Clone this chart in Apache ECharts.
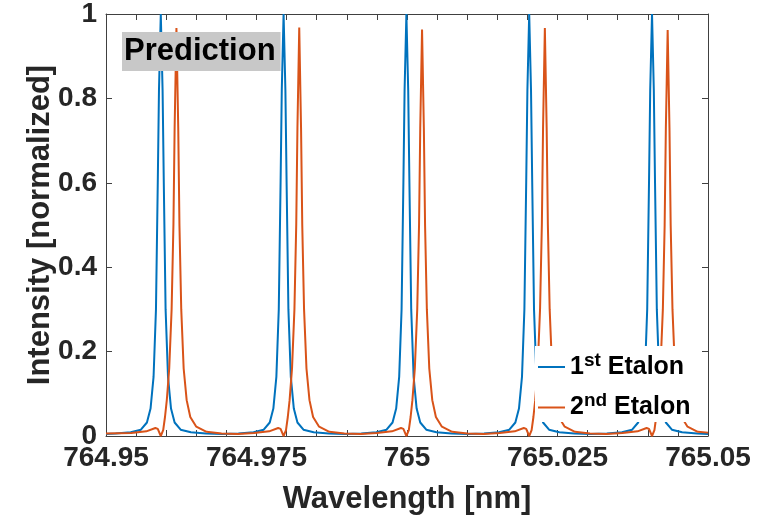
<!DOCTYPE html>
<html>
<head>
<meta charset="utf-8">
<title>Etalon prediction</title>
<script src="https://cdn.jsdelivr.net/npm/echarts@6/dist/echarts.min.js"></script>
<style>
	html, body { margin: 0; padding: 0; background: #fff; }
	#chart { width: 779px; height: 519px; }
</style>
</head>
<body>
<div id="chart"></div>
<script>
	// wavelength [nm], normalized intensity
	var etalon1 = [
		[764.9500, 0.005], [764.9516, 0.006], [764.9541, 0.009], [764.9558, 0.015], [764.9568, 0.032],
		[764.9574, 0.065], [764.9579, 0.14], [764.9583, 0.3], [764.9586, 0.6], [764.9588, 0.82],
		[764.9591, 1], [764.9594, 0.82], [764.9596, 0.6], [764.9599, 0.3], [764.9603, 0.14],
		[764.9608, 0.065], [764.9614, 0.032], [764.9624, 0.015], [764.9641, 0.009], [764.9666, 0.006],
		[764.9693, 0.005],
		[764.9720, 0.006], [764.9745, 0.009], [764.9762, 0.015], [764.9772, 0.032], [764.9778, 0.065],
		[764.9783, 0.14], [764.9787, 0.3], [764.9790, 0.6], [764.9792, 0.82], [764.9795, 1],
		[764.9798, 0.82], [764.9800, 0.6], [764.9803, 0.3], [764.9807, 0.14], [764.9812, 0.065],
		[764.9818, 0.032], [764.9828, 0.015], [764.9845, 0.009], [764.9870, 0.006], [764.9897, 0.005],
		[764.9924, 0.006], [764.9949, 0.009], [764.9966, 0.015], [764.9976, 0.032], [764.9982, 0.065],
		[764.9987, 0.14], [764.9991, 0.3], [764.9994, 0.6], [764.9996, 0.82], [764.9999, 1],
		[765.0002, 0.82], [765.0004, 0.6], [765.0007, 0.3], [765.0011, 0.14], [765.0016, 0.065],
		[765.0022, 0.032], [765.0032, 0.015], [765.0049, 0.009], [765.0074, 0.006], [765.0101, 0.005],
		[765.0128, 0.006], [765.0153, 0.009], [765.0170, 0.015], [765.0180, 0.032], [765.0186, 0.065],
		[765.0191, 0.14], [765.0195, 0.3], [765.0198, 0.6], [765.0200, 0.82], [765.0203, 1],
		[765.0206, 0.82], [765.0208, 0.6], [765.0211, 0.3], [765.0215, 0.14], [765.0220, 0.065],
		[765.0226, 0.032], [765.0236, 0.015], [765.0253, 0.009], [765.0278, 0.006], [765.0305, 0.005],
		[765.0332, 0.006], [765.0357, 0.009], [765.0374, 0.015], [765.0384, 0.032], [765.0390, 0.065],
		[765.0395, 0.14], [765.0399, 0.3], [765.0402, 0.6], [765.0404, 0.82], [765.0407, 1],
		[765.0410, 0.82], [765.0412, 0.6], [765.0415, 0.3], [765.0419, 0.14], [765.0424, 0.065],
		[765.0430, 0.032], [765.0440, 0.015], [765.0457, 0.009], [765.0482, 0.006], [765.0500, 0.005]
	];

	var etalon2 = [
		[764.9500, 0.006], [764.9542, 0.007], [764.9567, 0.011], [764.9582, 0.019], [764.9586, 0.017],
		[764.9591, 0.0], [764.9595, 0.014], [764.9598, 0.045], [764.9601, 0.085], [764.9605, 0.16],
		[764.9609, 0.3], [764.9612, 0.5], [764.9614, 0.73], [764.9617, 0.967], [764.9620, 0.73],
		[764.9622, 0.5], [764.9625, 0.3], [764.9629, 0.16], [764.9634, 0.085], [764.9640, 0.045],
		[764.9650, 0.022], [764.9667, 0.01], [764.9692, 0.006], [764.9719, 0.005],
		[764.9746, 0.007], [764.9771, 0.011], [764.9786, 0.019], [764.9790, 0.017], [764.9795, 0.0],
		[764.9799, 0.014], [764.9802, 0.045], [764.9805, 0.085], [764.9809, 0.16], [764.9813, 0.3],
		[764.9816, 0.5], [764.9818, 0.73], [764.9821, 0.968], [764.9824, 0.73], [764.9826, 0.5],
		[764.9829, 0.3], [764.9833, 0.16], [764.9838, 0.085], [764.9844, 0.045], [764.9854, 0.022],
		[764.9871, 0.01], [764.9896, 0.006], [764.9923, 0.005],
		[764.9950, 0.007], [764.9975, 0.011], [764.9990, 0.019], [764.9994, 0.017], [764.9999, 0.0],
		[765.0003, 0.014], [765.0006, 0.045], [765.0009, 0.085], [765.0013, 0.16], [765.0017, 0.3],
		[765.0020, 0.5], [765.0022, 0.73], [765.0025, 0.963], [765.0028, 0.73], [765.0030, 0.5],
		[765.0033, 0.3], [765.0037, 0.16], [765.0042, 0.085], [765.0048, 0.045], [765.0058, 0.022],
		[765.0075, 0.01], [765.0100, 0.006], [765.0127, 0.005],
		[765.0154, 0.007], [765.0179, 0.011], [765.0194, 0.019], [765.0198, 0.017], [765.0203, 0.0],
		[765.0207, 0.014], [765.0210, 0.045], [765.0213, 0.085], [765.0217, 0.16], [765.0221, 0.3],
		[765.0224, 0.5], [765.0226, 0.73], [765.0229, 0.967], [765.0232, 0.73], [765.0234, 0.5],
		[765.0237, 0.3], [765.0241, 0.16], [765.0246, 0.085], [765.0252, 0.045], [765.0262, 0.022],
		[765.0279, 0.01], [765.0304, 0.006], [765.0331, 0.005],
		[765.0358, 0.007], [765.0383, 0.011], [765.0398, 0.019], [765.0402, 0.017], [765.0407, 0.0],
		[765.0411, 0.014], [765.0414, 0.045], [765.0417, 0.085], [765.0421, 0.16], [765.0425, 0.3],
		[765.0428, 0.5], [765.0430, 0.73], [765.0433, 0.962], [765.0436, 0.73], [765.0438, 0.5],
		[765.0441, 0.3], [765.0445, 0.16], [765.0450, 0.085], [765.0456, 0.045], [765.0466, 0.022],
		[765.0483, 0.01], [765.0500, 0.008]
	];

	var seriesNames = ['1st Etalon', '2nd Etalon'];
	var legendLabels = ['{n|1}{s|st}{n| Etalon}', '{n|2}{s|nd}{n| Etalon}'];
	var xTicks = [764.95, 765.05, 0.025];
	var yTicks = [0, 1, 0.2];

	var font = '"Liberation Sans", Arial, Helvetica, sans-serif';
	var axisColor = '#404040';
	var textColor = '#262626';

	var myChart = echarts.init(document.getElementById('chart'));

	function xLabel(v) {
		return String(parseFloat(v.toFixed(3)));
	}

	var baseX = {
		type: 'value',
		min: xTicks[0],
		max: xTicks[1],
		interval: xTicks[2],
		axisLine: { show: true, onZero: false, lineStyle: { color: axisColor, width: 1 } },
		axisTick: { show: true, inside: true, length: 6, lineStyle: { color: axisColor } },
		minorTick: { show: true, splitNumber: 5, length: 6, lineStyle: { color: axisColor } },
		splitLine: { show: false }
	};
	var baseY = {
		type: 'value',
		min: yTicks[0],
		max: yTicks[1],
		interval: yTicks[2],
		axisLine: { show: true, onZero: false, lineStyle: { color: axisColor, width: 1 } },
		axisTick: { show: true, inside: true, length: 6, lineStyle: { color: axisColor } },
		splitLine: { show: false }
	};

	var option = {
		backgroundColor: '#fff',
		animation: false,
		title: {
			text: 'Prediction',
			left: 122,
			top: 32,
			backgroundColor: '#c8c8c8',
			padding: [4, 5, 4, 2],
			textStyle: { fontFamily: font, fontSize: 31, fontWeight: 'bold', color: '#000' }
		},
		grid: { left: 106, right: 71, top: 14, bottom: 83, outerBoundsMode: 'none' },
		legend: {
			orient: 'vertical',
			left: 535,
			top: 346,
			backgroundColor: '#fff',
			padding: [5, 10, 2, 3],
			itemGap: 12,
			itemWidth: 27,
			itemHeight: 2,
			icon: 'rect',
			data: seriesNames,
			formatter: function(name) {
				return legendLabels[seriesNames.indexOf(name)];
			},
			textStyle: {
				color: '#000',
				rich: {
					n: { fontFamily: font, fontSize: 25, fontWeight: 'bold', color: '#000', lineHeight: 32 },
					s: { fontFamily: font, fontSize: 19, fontWeight: 'bold', color: '#000', verticalAlign: 'top', lineHeight: 24 }
				}
			}
		},
		xAxis: [
			Object.assign({}, baseX, {
				position: 'bottom',
				name: 'Wavelength [nm]',
				nameLocation: 'middle',
				nameGap: 48,
				nameMoveOverlap: false,
				nameTextStyle: { fontFamily: font, fontSize: 31, fontWeight: 'bold', color: textColor },
				axisLabel: { margin: 8, formatter: xLabel, fontFamily: font, fontSize: 28, fontWeight: 'bold', color: textColor }
			}),
			Object.assign({}, baseX, { position: 'top', axisLabel: { show: false } })
		],
		yAxis: [
			Object.assign({}, baseY, {
				position: 'left',
				name: 'Intensity [normalized]',
				nameLocation: 'middle',
				nameGap: 50,
				nameMoveOverlap: false,
				nameTextStyle: { fontFamily: font, fontSize: 31, fontWeight: 'bold', color: textColor },
				axisLabel: { margin: 9, fontFamily: font, fontSize: 28, fontWeight: 'bold', color: textColor }
			}),
			Object.assign({}, baseY, { position: 'right', axisLabel: { show: false } })
		],
		series: [
			{
				name: seriesNames[0],
				type: 'line',
				symbol: 'none',
				color: '#0072BD',
				lineStyle: { width: 2, color: '#0072BD' },
				data: etalon1
			},
			{
				name: seriesNames[1],
				type: 'line',
				symbol: 'none',
				color: '#D95319',
				lineStyle: { width: 2, color: '#D95319' },
				data: etalon2
			}
		]
	};

	myChart.setOption(option);
</script>
</body>
</html>
